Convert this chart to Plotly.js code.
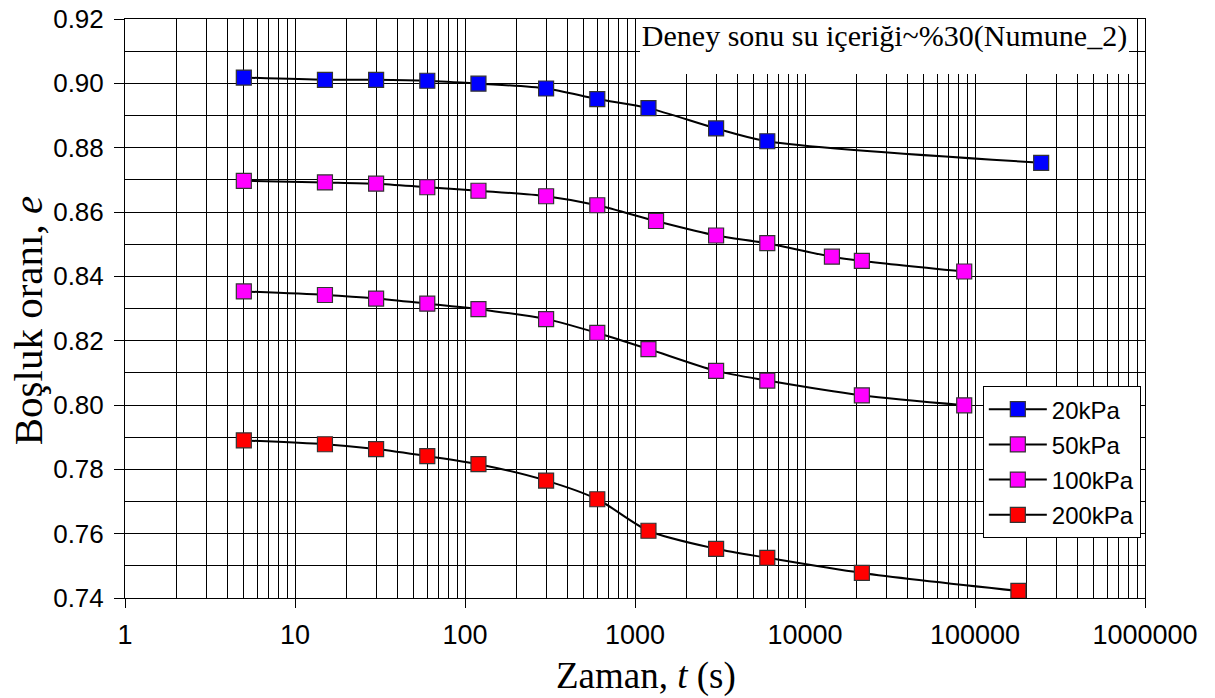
<!DOCTYPE html>
<html>
<head>
<meta charset="utf-8">
<script src="https://cdn.plot.ly/plotly-3.0.1.min.js"></script>
<style>
  html, body { margin: 0; padding: 0; background: #ffffff; }
  #chart { width: 1215px; height: 698px; }
</style>
</head>
<body>
<div id="chart"></div>
<script>
// Consolidation test: void ratio vs. time for each load step
const seriesNames = ['20kPa', '50kPa', '100kPa', '200kPa'];
const seriesColors = ['#0000FF', '#FF00FF', '#FF00FF', '#FF0000'];

const t20 = [5, 15, 30, 60, 120, 300, 600, 1200, 3000, 6000, 245000];
const e20 = [0.9018, 0.9011, 0.9011, 0.9008, 0.8999, 0.8984, 0.8951, 0.8923, 0.8860, 0.8820, 0.8753];

const t50 = [5, 15, 30, 60, 120, 300, 600, 1330, 3000, 6000, 14400, 21600, 86400];
const e50 = [0.8697, 0.8692, 0.8688, 0.8677, 0.8666, 0.8649, 0.8621, 0.8572, 0.8527, 0.8503, 0.8461, 0.8448, 0.8415];

const t100 = [5, 15, 30, 60, 120, 300, 600, 1200, 3000, 6000, 21600, 86400];
const e100 = [0.8353, 0.8342, 0.8331, 0.8315, 0.8298, 0.8267, 0.8224, 0.8174, 0.8106, 0.8076, 0.8030, 0.7999];

const t200 = [5, 15, 30, 60, 120, 300, 600, 1200, 3000, 6000, 21600, 180000];
const e200 = [0.7890, 0.7878, 0.7863, 0.7841, 0.7816, 0.7765, 0.7707, 0.7609, 0.7553, 0.7525, 0.7478, 0.7422];

const xTickVals = [1, 10, 100, 1000, 10000, 100000, 1000000];
const xTickText = ['1', '10', '100', '1000', '10000', '100000', '1000000'];

const noteText = 'Deney sonu su içeriği~%30(Numune_2)';
const xTitle = 'Zaman, <i>t</i> (s)';
const yTitle = 'Boşluk oranı, <i>e</i>';

const xs = [t20, t50, t100, t200];
const ys = [e20, e50, e100, e200];

const traces = seriesNames.map((name, i) => ({
  type: 'scatter',
  mode: 'lines+markers',
  name: name,
  legendgroup: 'g' + i,
  x: xs[i],
  y: ys[i],
  line: { color: '#000000', width: 2, shape: 'spline', smoothing: 0.8 },
  marker: { symbol: 'square', size: 15, color: seriesColors[i],
            line: { color: '#333333', width: 1.2 } },
  cliponaxis: false
}));

const sans = 'Liberation Sans, Arial, sans-serif';
const serif = 'Liberation Serif, Times New Roman, serif';
const gridW = 1;

const layout = {
  width: 1215,
  height: 698,
  paper_bgcolor: '#ffffff',
  plot_bgcolor: '#ffffff',
  margin: { l: 125, r: 70, t: 19, b: 100 },
  showlegend: true,
  xaxis: {
    type: 'log',
    range: [0, 6],
    tickvals: xTickVals,
    ticktext: xTickText,
    ticks: 'outside',
    ticklen: 9,
    tickwidth: gridW,
    tickcolor: '#000000',
    ticklabelstandoff: 4,
    tickfont: { family: sans, size: 27, color: '#000000' },
    showgrid: true,
    gridcolor: '#000000',
    gridwidth: gridW,
    minor: { dtick: 'D1', showgrid: true, gridcolor: '#000000', gridwidth: gridW, ticks: '' },
    showline: true,
    linecolor: '#000000',
    linewidth: gridW,
    mirror: true,
    zeroline: false
  },
  yaxis: {
    range: [0.74, 0.92],
    dtick: 0.02,
    tick0: 0.74,
    tickformat: '.2f',
    ticks: 'outside',
    ticklen: 10,
    tickwidth: gridW,
    tickcolor: '#000000',
    ticklabelstandoff: 5,
    tickfont: { family: sans, size: 26, color: '#000000' },
    showgrid: true,
    gridcolor: '#000000',
    gridwidth: gridW,
    minor: { dtick: 0.01, showgrid: true, gridcolor: '#000000', gridwidth: gridW, ticks: '' },
    showline: true,
    linecolor: '#000000',
    linewidth: gridW,
    mirror: true,
    zeroline: false
  },
  legend: {
    x: 0.841,
    y: 0.366,
    xanchor: 'left',
    yanchor: 'top',
    bgcolor: '#ffffff',
    bordercolor: '#000000',
    borderwidth: 1,
    itemwidth: 58,
    font: { family: sans, size: 24, color: '#000000' },
    tracegroupgap: 1
  },
  annotations: [
    {
      xref: 'paper', yref: 'paper',
      x: 0.505, y: 1.0,
      xanchor: 'left', yanchor: 'top',
      width: 489, height: 55,
      valign: 'top', align: 'center',
      text: noteText,
      showarrow: false,
      bgcolor: '#ffffff',
      borderpad: 0,
      borderwidth: 0,
      font: { family: serif, size: 30, color: '#000000' }
    },
    {
      xref: 'paper', yref: 'paper',
      x: 0.5108, y: -0.1346,
      xanchor: 'center', yanchor: 'middle',
      text: xTitle,
      showarrow: false,
      font: { family: serif, size: 37, color: '#000000' }
    },
    {
      xref: 'paper', yref: 'paper',
      x: -0.0951, y: 0.4796,
      xanchor: 'center', yanchor: 'middle',
      textangle: -90,
      text: yTitle,
      showarrow: false,
      font: { family: serif, size: 41, color: '#000000' }
    }
  ]
};

Plotly.newPlot('chart', traces, layout, { displayModeBar: false, staticPlot: true });
</script>
</body>
</html>
